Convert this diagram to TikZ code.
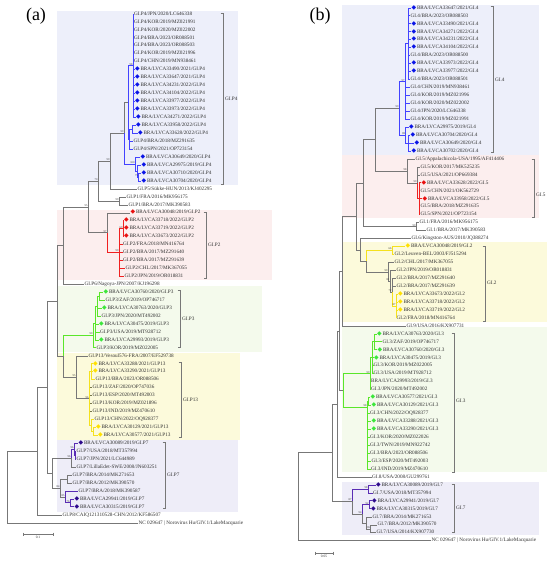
\documentclass[tikz,border=0pt]{standalone}
\usepackage{fontspec}
\setmainfont{Liberation Serif}
\newfontfamily\symf{DejaVu Sans}
\usetikzlibrary{calc}
\definecolor{txt}{HTML}{333333}
\definecolor{brg}{HTML}{777777}
\definecolor{mblue}{HTML}{0A14E6}
\definecolor{mred}{HTML}{E81010}
\definecolor{mgreen}{HTML}{3CE63C}
\definecolor{myel}{HTML}{FFE000}
\definecolor{mpur}{HTML}{2E0A8C}
\definecolor{lblue}{HTML}{4343FF}
\definecolor{lred}{HTML}{F02020}
\definecolor{lgreen}{HTML}{5AE62A}
\definecolor{lyel}{HTML}{F5E11E}
\definecolor{lpur}{HTML}{5A2DB4}
\definecolor{lolive}{HTML}{77774A}
\definecolor{bgblue}{HTML}{EDEFFA}
\definecolor{bgred}{HTML}{FCEEEE}
\definecolor{bggreen}{HTML}{F4FAEC}
\definecolor{bgyel}{HTML}{FCFADB}
\definecolor{bgpur}{HTML}{EEEDF8}
\tikzstyle{tip}=[anchor=west,inner sep=0.5pt,text=txt,text height=3.4pt,text depth=1pt,font=\fontsize{5.2}{5.2}\selectfont]
\tikzstyle{bsv}=[anchor=south east,inner sep=0.3pt,text=txt,font=\fontsize{2.8}{2.8}\selectfont]
\tikzstyle{clab}=[anchor=west,inner sep=0.5pt,text=txt,font=\fontsize{5.2}{5.2}\selectfont]
\tikzstyle{gbr}=[draw=brg,line width=0.45pt]
\tikzstyle{bbr}=[draw=lblue,line width=0.9pt]
\tikzstyle{rbr}=[draw=lred,line width=0.9pt]
\tikzstyle{gnb}=[draw=lgreen,line width=0.9pt]
\tikzstyle{ybr}=[draw=lyel,line width=0.9pt]
\tikzstyle{pbr}=[draw=lpur,line width=0.9pt]
\tikzstyle{obr}=[draw=lolive,line width=0.6pt]
\tikzstyle{brk}=[draw=brg,line width=0.5pt]
% leaf marker, leaf, inner node, edges, bootstrap, clade bracket
\newcommand{\mk}[1]{{\symf\fontsize{6}{5}\selectfont\textcolor{#1}{◆}}\hspace{0.7pt}}
\newcommand{\lf}[4]{\node[tip] (#1) at (#2,{\ys+7.95*#3}) {#4};}
\newcommand{\nd}[4]{\path let \p1=($(#3)!.5!(#4)$) in (#2pt,\y1) coordinate (#1);}
\newcommand{\ed}[3][gbr]{\foreach \ch in {#3}{\draw[#1] (#2) |- (\ch);}}
\newcommand{\edr}[5][gbr]{\foreach \i in {#4,...,#5}{\draw[#1] (#2) |- (#3\i);}}
\newcommand{\bs}[2]{\node[bsv] (v#1) at (#1) {#2};}
\newcommand{\clade}[6]{\draw[brk] (#2-2.5,#3) -- (#2,#3) -- (#2,#4) -- (#2-2.5,#4);
  \node[clab] (#1) at (#2+1.5,#5) {#6};}

\begin{document}
\begin{tikzpicture}[x=1pt,y=-1pt]
    \useasboundingbox (0,0) rectangle (550,564);
    % clade backgrounds
    \fill[bgblue] (57,11) rectangle (238,185);
    \fill[bgred] (57,210) rectangle (272,280);
    \fill[bggreen] (57,286) rectangle (262,352);
    \fill[bgyel] (57,353) rectangle (240,440);
    \fill[bgpur] (57,440) rectangle (238,512);
    \fill[bgblue] (342,5) rectangle (539,155);
    \fill[bgred] (342,155) rectangle (539,218);
    \fill[bgyel] (342,242) rectangle (547,322);
    \fill[bggreen] (342,327) rectangle (547,472);
    \fill[bgpur] (342,482) rectangle (539,535);

    \node (pa) at (36,16) {\fontsize{18}{18}\selectfont (a)};
    \node (pb) at (320,16) {\fontsize{18}{18}\selectfont (b)};

    %%%%% (a) P-types
    \def\ys{14}
    \lf{a0}{133.5}{0}{GI.P4/JPN/2020/LC646338}
    \lf{a1}{133.5}{1}{GI.P4/KOR/2019/MZ021991}
    \lf{a2}{133.5}{2}{GI.P4/KOR/2020/MZ022002}
    \lf{a3}{133.5}{3}{GI.P4/BRA/2023/OR088501}
    \lf{a4}{133.5}{4}{GI.P4/BRA/2023/OR088503}
    \lf{a5}{133.5}{5}{GI.P4/KOR/2019/MZ021996}
    \lf{a6}{133.5}{6}{GI.P4/CHN/2019/MN938461}
    \lf{a7}{134.5}{7}{\mk{mblue}BRA/LVCA33490/2021/GI.P4}
    \lf{a8}{134.5}{8}{\mk{mblue}BRA/LVCA33647/2021/GI.P4}
    \lf{a9}{134.5}{9}{\mk{mblue}BRA/LVCA34231/2022/GI.P4}
    \lf{a10}{134.5}{10}{\mk{mblue}BRA/LVCA34104/2022/GI.P4}
    \lf{a11}{134.5}{11}{\mk{mblue}BRA/LVCA33977/2022/GI.P4}
    \lf{a12}{134.5}{12}{\mk{mblue}BRA/LVCA33973/2022/GI.P4}
    \lf{a13}{135.5}{13}{\mk{mblue}BRA/LVCA34271/2022/GI.P4}
    \lf{a14}{135.5}{14}{\mk{mblue}BRA/LVCA33958/2022/GI.P4}
    \lf{a15}{137.5}{15}{\mk{mblue}BRA/LVCA33628/2022/GI.P4}
    \lf{a16}{133}{16}{GI.P4/BRA/2018/MZ291635}
    \lf{a17}{133}{17}{GI.P4/SPN/2021/OP723154}
    \lf{a18}{140}{18}{\mk{mblue}BRA/LVCA30649/2020/GI.P4}
    \lf{a19}{141}{19}{\mk{mblue}BRA/LVCA29975/2019/GI.P4}
    \lf{a20}{141}{20}{\mk{mblue}BRA/LVCA30710/2020/GI.P4}
    \lf{a21}{141}{21}{\mk{mblue}BRA/LVCA30704/2020/GI.P4}
    \lf{a22}{137}{22}{GI.P5/Sükke-HUN/2013/KJ402295}
    \lf{a23}{126}{23}{GI.P1/FRA/2016/MK956175}
    \lf{a24}{128}{24}{GI.P1/BRA/2017/MK390583}
    \lf{a25}{130}{25}{\mk{mred}BRA/LVCA30048/2019/GI.P2}
    \lf{a26}{123.5}{26}{\mk{mred}BRA/LVCA33718/2022/GI.P2}
    \lf{a27}{123.5}{27}{\mk{mred}BRA/LVCA33719/2022/GI.P2}
    \lf{a28}{123.5}{28}{\mk{mred}BRA/LVCA33673/2022/GI.P2}
    \lf{a29}{122.5}{29}{GI.P2/FRA/2018/MN416764}
    \lf{a30}{122.5}{30}{GI.P2/BRA/2017/MZ291640}
    \lf{a31}{122.5}{31}{GI.P2/BRA/2017/MZ291639}
    \lf{a32}{125}{32}{GI.P2/CHL/2017/MK367055}
    \lf{a33}{124}{33}{GI.P2/JPN/2019/OR018831}
    \lf{a34}{84}{34}{GI.P6/Nagoya-JPN/2007/KJ196298}
    \lf{a35}{103}{35}{\mk{mgreen}BRA/LVCA30760/2020/GI.P3}
    \lf{a36}{105}{36}{GI.P3/ZAF/2019/OP746717}
    \lf{a37}{101.5}{37}{\mk{mgreen}BRA/LVCA30763/2020/GI.P3}
    \lf{a38}{101}{38}{GI.P3/JPN/2020/MT492002}
    \lf{a39}{98.5}{39}{\mk{mgreen}BRA/LVCA30475/2019/GI.P3}
    \lf{a40}{99.5}{40}{GI.P3/USA/2019/MT928712}
    \lf{a41}{98.5}{41}{\mk{mgreen}BRA/LVCA29993/2019/GI.P3}
    \lf{a42}{96}{42}{GI.P3/KOR/2019/MZ022005}
    \lf{a43}{88}{43}{GI.P13/Vesoul576-FRA/2007/EF529738}
    \lf{a44}{92.5}{44}{\mk{myel}BRA/LVCA33288/2021/GI.P13}
    \lf{a45}{92.5}{45}{\mk{myel}BRA/LVCA33290/2021/GI.P13}
    \lf{a46}{95}{46}{GI.P13/BRA/2023/OR088506}
    \lf{a47}{92}{47}{GI.P13/ZAF/2020/OP747036}
    \lf{a48}{92}{48}{GI.P13/ESP/2020/MT492003}
    \lf{a49}{92}{49}{GI.P13/KOR/2019/MZ021896}
    \lf{a50}{92}{50}{GI.P13/IND/2019/MZ470610}
    \lf{a51}{94}{51}{GI.P13/CHN/2022/OQ928377}
    \lf{a52}{95.5}{52}{\mk{myel}BRA/LVCA30129/2021/GI.P13}
    \lf{a53}{97.5}{53}{\mk{myel}BRA/LVCA30577/2021/GI.P13}
    \lf{a54}{78}{54}{\mk{mpur}BRA/LVCA30089/2019/GI.P7}
    \lf{a55}{76}{55}{GI.P7/USA/2018/MT357994}
    \lf{a56}{76}{56}{GI.P7/JPN/2021/LC644989}
    \lf{a57}{76}{57}{GI.P7/LillaEdet-SWE/2008/JN603251}
    \lf{a58}{72}{58}{GI.P7/BRA/2014/MK271653}
    \lf{a59}{72}{59}{GI.P7/BRA/2012/MK390570}
    \lf{a60}{78}{60}{GI.P7/BRA/2018/MK390587}
    \lf{a61}{74}{61}{\mk{mpur}BRA/LVCA29941/2019/GI.P7}
    \lf{a62}{74}{62}{\mk{mpur}BRA/LVCA30315/2019/GI.P7}
    \lf{a63}{62}{63}{GI.P8/CAIQ121310528-CHN/2012/KF586507}
    \lf{a64}{138}{64}{NC 029647 | Norovirus Hu/GIV.1/LakeMacquarie}

    \nd{p4a}{133}{a0}{a13}
    \nd{p4c}{132}{a14}{a15}
    \nd{p4b}{129.5}{p4c}{a17}
    \nd{p4top}{128}{p4a}{p4b}
    \nd{p4f}{138.5}{a20}{a21}
    \nd{p4e}{137}{a19}{p4f}
    \nd{p4d}{135}{a18}{p4e}
    \nd{n124}{124}{p4top}{p4d}
    \nd{n110}{110}{n124}{a22}
    \nd{p1}{119}{a23}{a24}
    \nd{n98}{98}{n110}{p1}
    \nd{p2b}{123}{a26}{a28}
    \nd{p2a}{119}{p2b}{a33}
    \nd{p2}{107}{a25}{p2a}
    \nd{n88}{88}{n98}{p2}
    \nd{n63a}{63}{n88}{a34}
    \nd{n3c}{99}{a35}{a36}
    \nd{n3b}{97}{n3c}{a38}
    \nd{n3a}{95}{n3b}{a41}
    \nd{p3}{93}{n3a}{a42}
    \nd{n13a}{91}{a44}{a46}
    \nd{n13c}{93}{a52}{a53}
    \nd{n13b}{91}{a51}{n13c}
    \nd{n13}{89}{n13a}{n13b}
    \nd{p13}{76}{a43}{n13}
    \nd{n63b}{63}{p3}{p13}
    \nd{n57}{57}{n63a}{n63b}
    \nd{n7a}{75}{a55}{a56}
    \nd{n7b}{74}{a54}{n7a}
    \nd{n7c}{71}{n7b}{a57}
    \nd{n7d}{67}{a58}{a59}
    \nd{n7e}{70}{a61}{a62}
    \nd{n7f}{65}{a60}{n7e}
    \nd{n7g}{60}{n7d}{n7f}
    \nd{p7}{52}{n7c}{n7g}
    \nd{n47}{47}{n57}{p7}
    \nd{n37}{37}{n47}{a63}
    \nd{rl}{7}{n37}{a64}

    \edr[bbr]{p4a}{a}{0}{13}
    \ed[bbr]{p4c}{a14,a15}
    \ed[bbr]{p4b}{p4c,a16,a17}
    \ed[bbr]{p4top}{p4a,p4b}
    \ed[bbr]{p4f}{a20,a21}
    \ed[bbr]{p4e}{a19,p4f}
    \ed[bbr]{p4d}{a18,p4e}
    \ed{n124}{p4top}
    \ed[bbr]{n124}{p4d}
    \ed{n110}{n124,a22}
    \ed{p1}{a23,a24}
    \ed{n98}{n110,p1}
    \edr[rbr]{p2b}{a}{26}{28}
    \ed[rbr]{p2a}{p2b}
    \edr[rbr]{p2a}{a}{29}{33}
    \ed{p2}{a25}
    \ed[rbr]{p2}{p2a}
    \ed{n88}{n98,p2}
    \ed{n63a}{n88,a34}
    \ed[gnb]{n3c}{a35,a36}
    \ed[gnb]{n3b}{n3c,a37,a38}
    \ed[gnb]{n3a}{n3b,a39,a40,a41}
    \ed[gnb]{p3}{n3a,a42}
    \ed[obr]{n13}{a47,a48,a49,a50}
    \ed[ybr]{n13a}{a44,a45,a46}
    \ed[ybr]{n13c}{a52,a53}
    \ed[ybr]{n13b}{a51,n13c}
    \ed[ybr]{n13}{n13a,n13b}
    \ed{p13}{a43,n13}
    \ed[gnb]{n63b}{p3}
    \ed{n63b}{p13}
    \ed{n57}{n63a,n63b}
    \ed[pbr]{n7a}{a55,a56}
    \ed[pbr]{n7b}{a54,n7a}
    \ed{n7c}{a57}
    \ed[pbr]{n7c}{n7b}
    \ed{n7d}{a58,a59}
    \ed[pbr]{n7e}{a61,a62}
    \ed[pbr]{n7f}{a60,n7e}
    \ed{n7g}{n7d,n7f}
    \ed{p7}{n7c,n7g}
    \ed{n47}{n57,p7}
    \ed{n37}{n47,a63}
    \ed{rl}{n37,a64}

    \bs{p4a}{98} \bs{n124}{99} \bs{p4d}{100} \bs{p4f}{75} \bs{n110}{99}
    \bs{n98}{70} \bs{p1}{99} \bs{n88}{95} \bs{p2}{97} \bs{p2b}{69}
    \bs{p2a}{99} \bs{p3}{99} \bs{p13}{95} \bs{n13}{96} \bs{n7b}{96}
    \bs{n7c}{96} \bs{n7g}{84} \bs{n7f}{85} \bs{n7e}{76}

    \clade{cP4}{223}{13}{184}{99}{GI.P4}
    \clade{cP2}{206}{212}{278}{245}{GI.P2}
    \clade{cP3}{180}{290}{347}{319}{GI.P3}
    \clade{cP13}{181}{362}{437}{400}{GI.P13}
    \clade{cP7}{165}{442}{508}{475}{GI.P7}

    \coordinate (sa1) at (23,534);
    \coordinate (sa2) at (53,534);
    \draw[brk] (sa1) -- (sa2);
    \draw[brk] ($(sa1)+(0,-1.5)$) -- ($(sa1)+(0,1.5)$);
    \draw[brk] ($(sa2)+(0,-1.5)$) -- ($(sa2)+(0,1.5)$);
    \node[bsv,anchor=north,font=\fontsize{3.5}{3.5}\selectfont] (sal) at ($(sa1)!.5!(sa2)+(0,2)$) {0.1};

    %%%%% (b) genotypes
    \def\ys{8}
    \lf{b0}{411}{0}{\mk{mblue}BRA/LVCA33647/2021/GI.4}
    \lf{b1}{410}{1}{GI.4/BRA/2023/OR088503}
    \lf{b2}{411}{2}{\mk{mblue}BRA/LVCA33490/2021/GI.4}
    \lf{b3}{411}{3}{\mk{mblue}BRA/LVCA34271/2022/GI.4}
    \lf{b4}{411}{4}{\mk{mblue}BRA/LVCA34231/2022/GI.4}
    \lf{b5}{411}{5}{\mk{mblue}BRA/LVCA34104/2022/GI.4}
    \lf{b6}{410}{6}{GI.4/BRA/2023/OR088500}
    \lf{b7}{411}{7}{\mk{mblue}BRA/LVCA33973/2022/GI.4}
    \lf{b8}{411}{8}{\mk{mblue}BRA/LVCA33977/2022/GI.4}
    \lf{b9}{410}{9}{GI.4/BRA/2023/OR088501}
    \lf{b10}{410}{10}{GI.4/CHN/2019/MN938461}
    \lf{b11}{410}{11}{GI.4/KOR/2019/MZ021996}
    \lf{b12}{410}{12}{GI.4/KOR/2020/MZ022002}
    \lf{b13}{410}{13}{GI.4/JPN/2020/LC646338}
    \lf{b14}{410}{14}{GI.4/KOR/2019/MZ021991}
    \lf{b15}{408.5}{15}{\mk{mblue}BRA/LVCA29975/2019/GI.4}
    \lf{b16}{410}{16}{\mk{mblue}BRA/LVCA30704/2020/GI.4}
    \lf{b17}{414}{17}{\mk{mblue}BRA/LVCA30649/2020/GI.4}
    \lf{b18}{411}{18}{\mk{mblue}BRA/LVCA30702/2020/GI.4}
    \lf{b19}{415}{19}{GI.5/Appalachicola-USA/1995/AF414406}
    \lf{b20}{420}{20}{GI.5/KOR/2017/MK525235}
    \lf{b21}{420}{21}{GI.5/USA/2021/OP669384}
    \lf{b22}{421}{22}{\mk{mred}BRA/LVCA33628/2022/GI.5}
    \lf{b23}{420}{23}{GI.5/CHN/2021/OK562729}
    \lf{b24}{422}{24}{\mk{mred}BRA/LVCA33958/2022/GI.5}
    \lf{b25}{420}{25}{GI.5/BRA/2018/MZ291635}
    \lf{b26}{420}{26}{GI.5/SPN/2021/OP723154}
    \lf{b27}{419}{27}{GI.1/FRA/2016/MK956175}
    \lf{b28}{426}{28}{GI.1/BRA/2017/MK390583}
    \lf{b29}{411}{29}{GI.6/Kingston-AUS/2010/JQ388274}
    \lf{b30}{405}{30}{\mk{myel}BRA/LVCA30048/2019/GI.2}
    \lf{b31}{394}{31}{GI.2/Leuven-BEL/2003/FJ515294}
    \lf{b32}{394}{32}{GI.2/CHL/2017/MK367055}
    \lf{b33}{396}{33}{GI.2/JPN/2019/OR018831}
    \lf{b34}{396}{34}{GI.2/BRA/2017/MZ291640}
    \lf{b35}{396}{35}{GI.2/BRA/2017/MZ291639}
    \lf{b36}{397.5}{36}{\mk{myel}BRA/LVCA33673/2022/GI.2}
    \lf{b37}{397.5}{37}{\mk{myel}BRA/LVCA33718/2022/GI.2}
    \lf{b38}{397.5}{38}{\mk{myel}BRA/LVCA33719/2022/GI.2}
    \lf{b39}{396}{39}{GI.2/FRA/2018/MN416764}
    \lf{b40}{406}{40}{GI.9/USA/2016/KX907731}
    \lf{b41}{376.5}{41}{\mk{mgreen}BRA/LVCA30763/2020/GI.3}
    \lf{b42}{382}{42}{GI.3/ZAF/2019/OP746717}
    \lf{b43}{377}{43}{\mk{mgreen}BRA/LVCA30760/2020/GI.3}
    \lf{b44}{373.5}{44}{\mk{mgreen}BRA/LVCA30475/2019/GI.3}
    \lf{b45}{373}{45}{GI.3/KOR/2019/MZ022005}
    \lf{b46}{373}{46}{GI.3/USA/2019/MT928712}
    \lf{b47}{370.5}{47}{BRA/LVCA29993/2019/GI.3}
    \lf{b48}{370.5}{48}{GI.3/JPN/2020/MT492002}
    \lf{b49}{370}{49}{\mk{mgreen}BRA/LVCA30577/2021/GI.3}
    \lf{b50}{371}{50}{\mk{mgreen}BRA/LVCA30129/2021/GI.3}
    \lf{b51}{369.5}{51}{GI.3/CHN/2022/OQ928377}
    \lf{b52}{371}{52}{\mk{mgreen}BRA/LVCA33288/2021/GI.3}
    \lf{b53}{371}{53}{\mk{mgreen}BRA/LVCA33290/2021/GI.3}
    \lf{b54}{369.5}{54}{GI.3/KOR/2020/MZ022026}
    \lf{b55}{369.5}{55}{GI.3/TWN/2019/MN922742}
    \lf{b56}{369.5}{56}{GI.3/BRA/2023/OR088506}
    \lf{b57}{371}{57}{GI.3/ESP/2020/MT492003}
    \lf{b58}{370.5}{58}{GI.3/IND/2019/MZ470610}
    \lf{b59}{371.5}{59}{GI.8/USA/2008/GU299761}
    \lf{b60}{375.5}{60}{\mk{mpur}BRA/LVCA30089/2019/GI.7}
    \lf{b61}{372.5}{61}{GI.7/USA/2018/MT357994}
    \lf{b62}{371.5}{62}{\mk{mpur}BRA/LVCA29941/2019/GI.7}
    \lf{b63}{370.5}{63}{\mk{mpur}BRA/LVCA30315/2019/GI.7}
    \lf{b64}{372}{64}{GI.7/BRA/2014/MK271653}
    \lf{b65}{377}{65}{GI.7/BRA/2012/MK390570}
    \lf{b66}{376}{66}{GI.7/USA/2014/KX907730}
    \lf{b67}{431}{67}{NC 029647 | Norovirus Hu/GIV.1/LakeMacquarie}

    \nd{g4a1}{408}{b0}{b9}
    \nd{g4a}{405}{g4a1}{b14}
    \nd{g4c}{408}{b16}{b18}
    \nd{g4b}{405.5}{b15}{g4c}
    \nd{g4}{399}{g4a}{g4b}
    \nd{g5b}{419}{b22}{b26}
    \nd{g5a}{417}{b20}{g5b}
    \nd{g5}{407}{b19}{g5a}
    \nd{m375}{375}{g4}{g5}
    \nd{g1}{416}{b27}{b28}
    \nd{m363}{363}{m375}{g1}
    \nd{g2e}{396}{b36}{b39}
    \nd{g2d}{392}{b34}{g2e}
    \nd{g2c}{390}{b33}{g2d}
    \nd{g2b}{388}{b32}{g2c}
    \nd{g2a}{392}{b30}{b31}
    \nd{g2}{366}{g2a}{g2b}
    \nd{m360}{360}{b29}{g2}
    \nd{m356}{356}{m363}{m360}
    \nd{m342}{342}{m356}{b40}
    \nd{g3a3}{374}{b41}{b43}
    \nd{g3a2}{372.5}{g3a3}{b46}
    \nd{g3a}{370}{g3a2}{b48}
    \nd{g3b1}{368.5}{b49}{b50}
    \nd{g3b}{367}{g3b1}{b51}
    \nd{g3}{343}{g3a}{g3b}
    \nd{m339}{339}{m342}{g3}
    \nd{m337}{337}{m339}{b59}
    \nd{g7a}{368}{b60}{b61}
    \nd{g7c}{369}{b62}{b63}
    \nd{g7d}{370.5}{b65}{b66}
    \nd{g7e}{366}{b64}{g7d}
    \nd{g7b}{362}{g7c}{g7e}
    \nd{g7}{352}{g7a}{g7b}
    \nd{m332}{332}{m337}{g7}
    \nd{rr}{298}{m332}{b67}

    \edr[bbr]{g4a1}{b}{0}{9}
    \ed[bbr]{g4a}{g4a1,b10,b11,b12,b13,b14}
    \ed[bbr]{g4c}{b16,b17,b18}
    \ed[bbr]{g4b}{b15,g4c}
    \ed[bbr]{g4}{g4a,g4b}
    \ed{g5a}{b20,b21}
    \edr[rbr]{g5b}{b}{22}{26}
    \ed[rbr]{g5a}{g5b}
    \ed{g5}{b19,g5a}
    \ed{m375}{g4,g5}
    \ed{g1}{b27,b28}
    \ed{m363}{m375,g1}
    \edr[ybr]{g2e}{b}{36}{39}
    \ed{g2d}{b34,b35}
    \ed[ybr]{g2d}{g2e}
    \ed{g2c}{b33,g2d}
    \ed{g2b}{b32,g2c}
    \ed[ybr]{g2a}{b30,b31}
    \ed[ybr]{g2}{g2a}
    \ed{g2}{g2b}
    \ed{m360}{b29,g2}
    \ed{m356}{m363,m360}
    \ed{m342}{m356,b40}
    \ed[gnb]{g3a3}{b41,b42,b43}
    \ed[gnb]{g3a2}{g3a3,b44,b45,b46}
    \ed[gnb]{g3a}{g3a2,b47,b48}
    \ed[gnb]{g3b1}{b49,b50}
    \ed[gnb]{g3b}{g3b1,b51,b52,b53,b54,b55,b56,b57,b58}
    \ed[gnb]{g3}{g3a,g3b}
    \ed{m339}{m342,g3}
    \ed{m337}{m339,b59}
    \ed[pbr]{g7a}{b60,b61}
    \ed[pbr]{g7c}{b62,b63}
    \ed{g7d}{b65,b66}
    \ed{g7e}{b64,g7d}
    \ed{g7b}{g7e}
    \ed[pbr]{g7b}{g7c}
    \ed{g7}{g7b}
    \ed[pbr]{g7}{g7a}
    \ed{m332}{m337,g7}
    \ed{rr}{m332,b67}

    \bs{g4a}{97} \bs{g4}{99} \bs{g4b}{98} \bs{g5}{98} \bs{g5a}{99}
    \bs{g1}{99} \bs{g2a}{66} \bs{g2b}{99} \bs{g2c}{81} \bs{g2d}{72}
    \bs{g2e}{87} \bs{g3a}{99} \bs{g3b}{98} \bs{g7}{87} \bs{g7a}{98}
    \bs{g7c}{92} \bs{g7b}{94} \bs{g7d}{96}

    \clade{c4}{493}{6}{152}{80}{GI.4}
    \clade{c5}{534}{159}{217}{195}{GI.5}
    \clade{c2}{485}{246}{321}{283}{GI.2}
    \clade{c3}{454}{333}{472}{401}{GI.3}
    \clade{c7}{454}{484}{532}{508}{GI.7}

    \coordinate (sb1) at (315,553);
    \coordinate (sb2) at (333,553);
    \draw[brk] (sb1) -- (sb2);
    \draw[brk] ($(sb1)+(0,-1.5)$) -- ($(sb1)+(0,1.5)$);
    \draw[brk] ($(sb2)+(0,-1.5)$) -- ($(sb2)+(0,1.5)$);
    \node[bsv,anchor=north,font=\fontsize{3.5}{3.5}\selectfont] (sbl) at ($(sb1)!.5!(sb2)+(0,2)$) {0.05};
\end{tikzpicture}
\end{document}
